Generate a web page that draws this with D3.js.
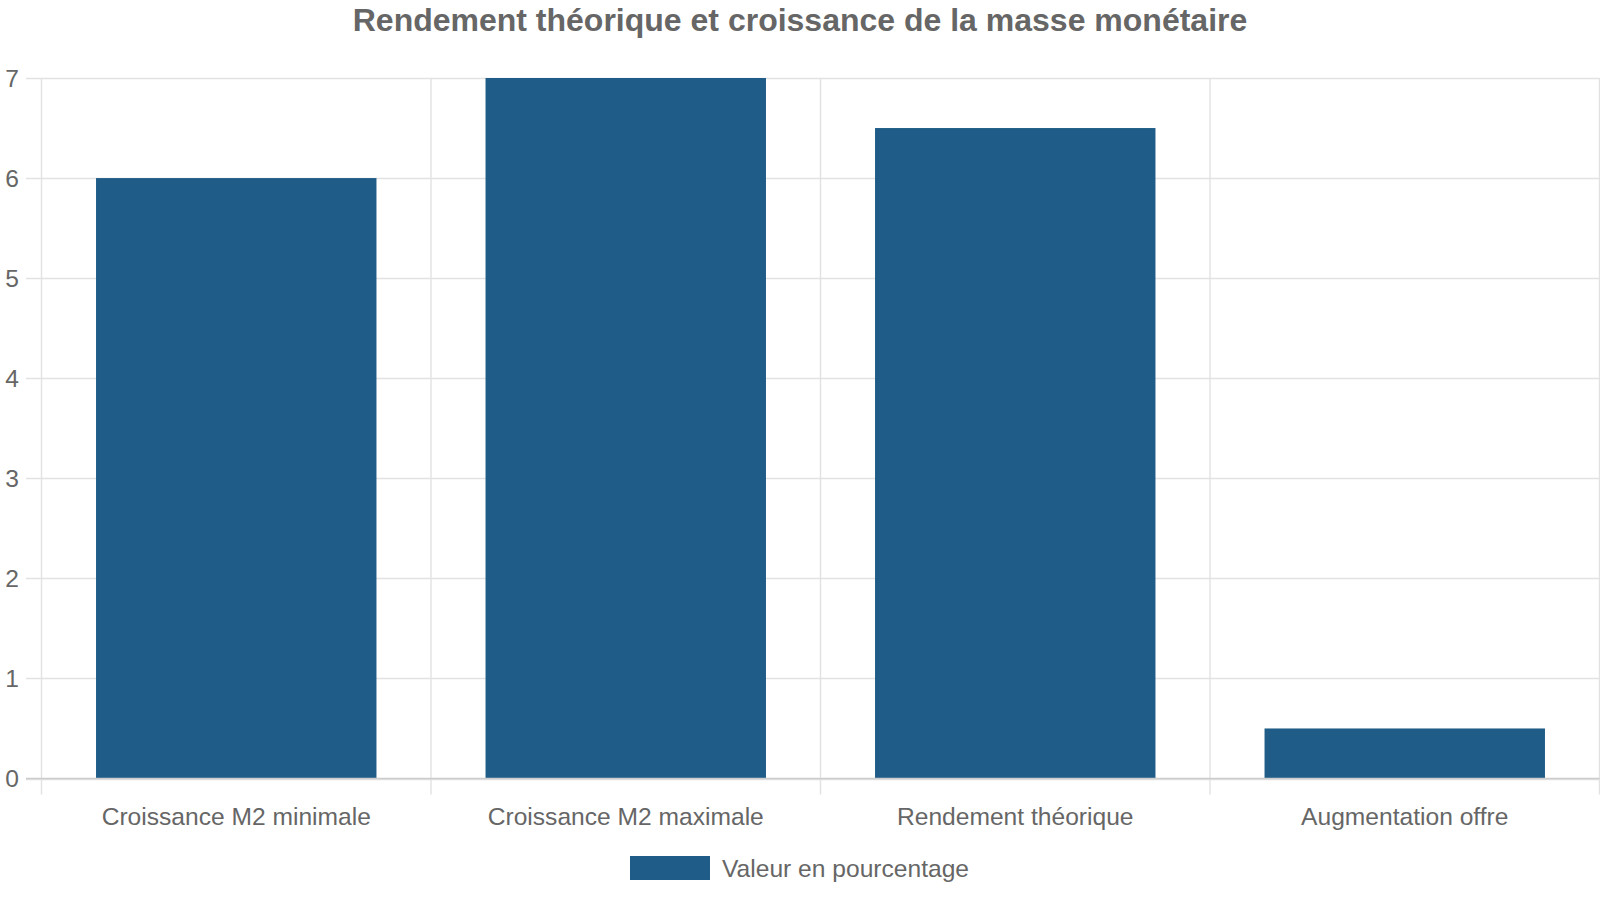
<!DOCTYPE html>
<html><head><meta charset="utf-8">
<script src="https://cdn.jsdelivr.net/npm/d3@7"></script>
<style>html,body{margin:0;padding:0;background:#fff;}svg{display:block;}</style>
</head><body>
<svg id="c" width="1600" height="900"></svg>
<script>
const categories = ["Croissance M2 minimale", "Croissance M2 maximale", "Rendement théorique", "Augmentation offre"];
const values = [6, 7, 6.5, 0.5];
const yTicks = [0, 1, 2, 3, 4, 5, 6, 7];
const seriesName = "Valeur en pourcentage";
const titleText = "Rendement théorique et croissance de la masse monétaire";

const W = 1600, H = 900;
const m = {left: 41.5, right: 1599.5, top: 78, bottom: 778.5};
const font = "'Liberation Sans', Arial, sans-serif";
const textColor = "#666";
const barColor = "#1f5c87";
const labelSize = 24.6;

const svg = d3.select("#c");
const x = d3.scaleBand().domain(categories).range([m.left, m.right]).paddingInner(0).paddingOuter(0);
const y = d3.scaleLinear().domain([0, 7]).range([m.bottom, m.top]);

// horizontal grid
svg.append("g").selectAll("line").data(yTicks).join("line")
  .attr("x1", 26).attr("x2", m.right)
  .attr("y1", d => Math.round(y(d)) + 0.5).attr("y2", d => Math.round(y(d)) + 0.5)
  .attr("stroke", "#e2e2e2").attr("stroke-width", 1.4);

// vertical grid
const vx = categories.map(c => x(c)).concat([m.right]);
svg.append("g").selectAll("line").data(vx).join("line")
  .attr("x1", d => d).attr("x2", d => d)
  .attr("y1", m.top).attr("y2", m.bottom + 16)
  .attr("stroke", "#e2e2e2").attr("stroke-width", 1.4);

// bars
const bw = x.bandwidth() * 0.72;
svg.append("g").selectAll("rect").data(values).join("rect")
  .attr("x", (d, i) => x(categories[i]) + (x.bandwidth() - bw) / 2)
  .attr("width", bw)
  .attr("y", d => y(d))
  .attr("height", d => y(0) - y(d))
  .attr("fill", barColor);

// zero line on top
svg.append("line").attr("x1", 26).attr("x2", m.right)
  .attr("y1", y(0)).attr("y2", y(0)).attr("stroke", "#cccccc").attr("stroke-width", 1.6);

// y tick labels
svg.append("g").selectAll("text").data(yTicks).join("text")
  .attr("x", 19).attr("y", d => y(d)).attr("dy", "0.35em")
  .attr("text-anchor", "end").attr("font-family", font).attr("font-size", labelSize)
  .attr("fill", textColor).text(d => d);

// x labels
svg.append("g").selectAll("text").data(categories).join("text")
  .attr("x", d => x(d) + x.bandwidth() / 2).attr("y", 816).attr("dy", "0.35em")
  .attr("text-anchor", "middle").attr("font-family", font).attr("font-size", labelSize)
  .attr("fill", textColor).text(d => d);

// title
svg.append("text").attr("x", 800).attr("y", 20).attr("dy", "0.35em")
  .attr("text-anchor", "middle").attr("font-family", font).attr("font-size", 32)
  .attr("font-weight", "bold").attr("fill", textColor).text(titleText);

// legend
const lg = svg.append("g");
lg.append("rect").attr("x", 630).attr("y", 856).attr("width", 80).attr("height", 24).attr("fill", barColor);
lg.append("text").attr("x", 722).attr("y", 868).attr("dy", "0.35em")
  .attr("font-family", font).attr("font-size", labelSize).attr("fill", textColor).text(seriesName);
</script>
</body></html>
